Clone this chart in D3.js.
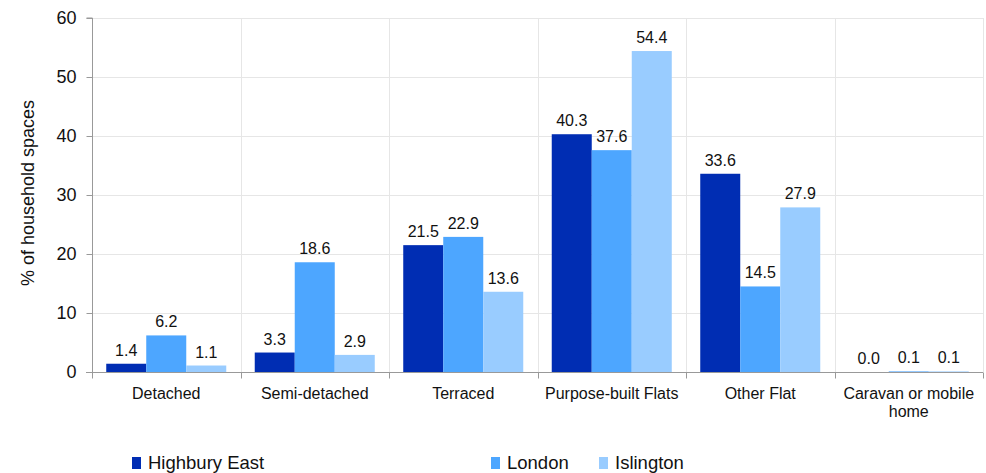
<!DOCTYPE html>
<html><head><meta charset="utf-8">
<script src="https://cdn.jsdelivr.net/npm/d3@7"></script>
<style>body{margin:0;background:#fff;}svg{display:block;font-family:"Liberation Sans",Arial,sans-serif;}</style>
</head><body><svg id="c" width="986" height="473"></svg>
<script>
const categories = ["Detached","Semi-detached","Terraced","Purpose-built Flats","Other Flat","Caravan or mobile home"];
const seriesNames = ["Highbury East","London","Islington"];
const highburyEast = [1.4,3.3,21.5,40.3,33.6,0.0];
const london = [6.2,18.6,22.9,37.6,14.5,0.1];
const islington = [1.1,2.9,13.6,54.4,27.9,0.1];
const yTicks = [0,10,20,30,40,50,60];
const colors = ["#002db3","#4da6ff","#99ccff"];
const series = [highburyEast, london, islington];

const svg = d3.select("#c");
const L=92, R=983, T=18, B=372;
const x = d3.scaleBand().domain(categories).range([L,R]).paddingInner(0).paddingOuter(0);
const x1 = d3.scaleBand().domain(seriesNames).range([0,x.bandwidth()]).paddingOuter(0.356).paddingInner(0);
const y = d3.scaleLinear().domain([0,60]).range([B,T]);

// gridlines
svg.append("g").selectAll("line").data(yTicks.filter(d=>d>0)).join("line")
  .attr("x1",L).attr("x2",R).attr("y1",d=>Math.round(y(d))+0.5).attr("y2",d=>Math.round(y(d))+0.5)
  .attr("stroke","#e6e6e6").attr("stroke-width",1);
const bounds = categories.map(c=>x(c)).concat([R]);
svg.append("g").selectAll("line").data(bounds.slice(1)).join("line")
  .attr("x1",d=>Math.round(d)+0.5).attr("x2",d=>Math.round(d)+0.5)
  .attr("y1",T).attr("y2",B).attr("stroke","#e6e6e6");

// bars
const g = svg.append("g");
categories.forEach((c,ci)=>{
  seriesNames.forEach((s,si)=>{
    const v = series[si][ci];
    const bx = x(c)+x1(s);
    g.append("rect").attr("x",bx).attr("width",x1.bandwidth())
      .attr("y",y(v)).attr("height",B-y(v)).attr("fill",colors[si]);
    g.append("text").attr("x",bx+x1.bandwidth()/2).attr("y",y(v)-8)
      .attr("text-anchor","middle").attr("font-size",16).attr("fill","#111")
      .text(v.toFixed(1));
  });
});

// y axis
const ya = svg.append("g").attr("transform",`translate(${L+0.5},0)`)
  .call(d3.axisLeft(y).tickValues(yTicks).tickSize(6).tickPadding(10));
ya.selectAll("text").attr("font-size",18).attr("fill","#111").attr("font-family","Liberation Sans, Arial, sans-serif");
ya.selectAll("line,path").attr("stroke","#999");
ya.select("path").attr("d",`M-6,${T}H0V${B}`);

// x axis
const xa = svg.append("g").attr("transform",`translate(0,${B+0.5})`);
xa.append("line").attr("x1",L-6).attr("x2",R).attr("stroke","#999");
xa.selectAll("line.t").data(bounds).join("line").attr("class","t")
  .attr("x1",d=>Math.round(d)+0.5).attr("x2",d=>Math.round(d)+0.5).attr("y1",0).attr("y2",6).attr("stroke","#999");
categories.forEach(c=>{
  const cx = x(c)+x.bandwidth()/2;
  const t = xa.append("text").attr("text-anchor","middle").attr("font-size",16).attr("fill","#111");
  if(c==="Caravan or mobile home"){
    t.append("tspan").attr("x",cx).attr("y",26).text("Caravan or mobile");
    t.append("tspan").attr("x",cx).attr("y",44).text("home");
  } else {
    t.attr("x",cx).attr("y",26).text(c);
  }
});

// y title
svg.append("text").attr("transform",`translate(34,${(T+B)/2-2}) rotate(-90)`)
  .attr("text-anchor","middle").attr("font-size",18).attr("fill","#111").text("% of household spaces");

// legend
const legX = [132,491,599];
seriesNames.forEach((s,i)=>{
  svg.append("rect").attr("x",legX[i]).attr("y",457).attr("width",9).attr("height",12).attr("fill",colors[i]);
  svg.append("text").attr("x",legX[i]+16).attr("y",469).attr("font-size",18.5).attr("fill","#111").text(s);
});
</script></body></html>
